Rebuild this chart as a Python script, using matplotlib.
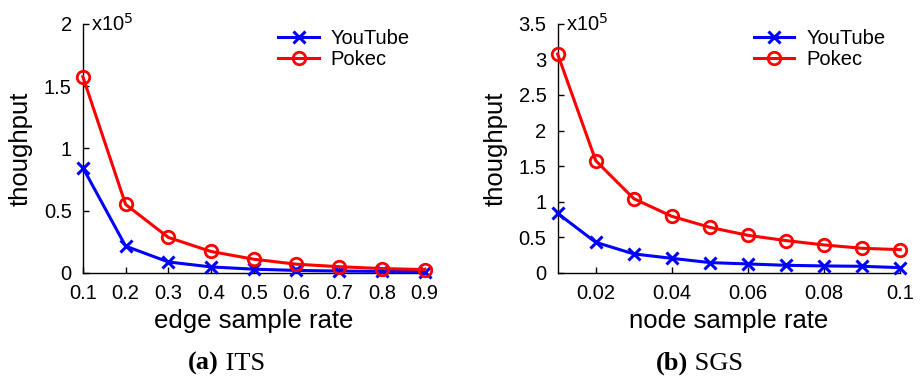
import matplotlib.pyplot as plt
import numpy as np

plt.rcParams['font.family'] = ['Liberation Sans', 'DejaVu Sans']

# (a) ITS: edge sample rate, throughput in units of 1e5
edge_rate = [0.1, 0.2, 0.3, 0.4, 0.5, 0.6, 0.7, 0.8, 0.9]
its_youtube = [0.845, 0.215, 0.088, 0.048, 0.03, 0.02, 0.015, 0.012, 0.01]
its_pokec = [1.575, 0.55, 0.285, 0.172, 0.11, 0.07, 0.05, 0.035, 0.027]

# (b) SGS: node sample rate
node_rate = [0.01, 0.02, 0.03, 0.04, 0.05, 0.06, 0.07, 0.08, 0.09, 0.1]
sgs_youtube = [0.837, 0.43, 0.267, 0.205, 0.145, 0.126, 0.107, 0.098, 0.093, 0.074]
sgs_pokec = [3.075, 1.577, 1.043, 0.795, 0.64, 0.528, 0.454, 0.393, 0.346, 0.327]

fig = plt.figure(figsize=(9.21, 3.78), dpi=100)
ax1 = fig.add_axes([0.090, 0.278, 0.371, 0.659])
ax2 = fig.add_axes([0.6055, 0.278, 0.372, 0.659])

def draw(ax, x, yt, pk, xlabel, caption_b, caption, cap_x):
    ax.plot(x, yt, color='#0000ff', marker='x', markersize=9, mew=2.2, lw=2.2,
            label='YouTube', clip_on=False, zorder=3)
    ax.plot(x, pk, color='#ff0000', marker='o', markersize=9, mew=2, mfc='none',
            lw=2.2, label='Pokec', clip_on=False, zorder=3)
    for s in ['top', 'right']:
        ax.spines[s].set_visible(False)
    ax.spines['left'].set_linewidth(1)
    ax.spines['bottom'].set_linewidth(1)
    ax.tick_params(direction='in', length=4, width=1, labelsize=14.5, pad=8)
    ax.set_xlabel(xlabel, fontsize=18.5, labelpad=4)
    ax.set_ylabel('thoughput', fontsize=18.5, labelpad=8)
    ax.text(0.025, 1.0, 'x10$^5$', transform=ax.transAxes, fontsize=14.5,
            ha='left', va='center')
    ax.legend(loc='upper right', bbox_to_anchor=(1.01, 1.05), frameon=False,
              fontsize=14.5, handlelength=2.0, handletextpad=0.6, labelspacing=0.1)
    ax.text(cap_x, -0.39, caption_b, transform=ax.transAxes, fontsize=19,
            family='Liberation Serif', weight='bold', ha='right', va='baseline')
    ax.text(cap_x, -0.39, ' ' + caption, transform=ax.transAxes, fontsize=19,
            family='Liberation Serif', ha='left', va='baseline')

draw(ax1, edge_rate, its_youtube, its_pokec, 'edge sample rate', '(a)', 'ITS', 0.397)
ax1.set_xlim(0.1, 0.9)
ax1.set_ylim(0, 2)
ax1.set_xticks(edge_rate)
ax1.set_xticklabels(['0.1', '0.2', '0.3', '0.4', '0.5', '0.6', '0.7', '0.8', '0.9'])
ax1.set_yticks([0, 0.5, 1, 1.5, 2])
ax1.set_yticklabels(['0', '0.5', '1', '1.5', '2'])

draw(ax2, node_rate, sgs_youtube, sgs_pokec, 'node sample rate', '(b)', 'SGS', 0.381)
ax2.set_xlim(0.01, 0.1)
ax2.set_ylim(0, 3.5)
ax2.set_xticks([0.02, 0.04, 0.06, 0.08, 0.1])
ax2.set_xticklabels(['0.02', '0.04', '0.06', '0.08', '0.1'])
ax2.set_yticks([0, 0.5, 1, 1.5, 2, 2.5, 3, 3.5])
ax2.set_yticklabels(['0', '0.5', '1', '1.5', '2', '2.5', '3', '3.5'])

fig.savefig('out.png', dpi=100)
